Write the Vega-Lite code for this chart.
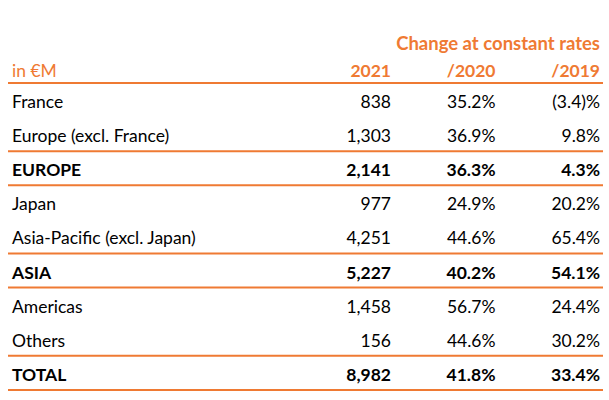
{
  "$schema": "https://vega.github.io/schema/vega-lite/v6.json",
  "width": 609,
  "height": 400,
  "autosize": {"type": "fit", "contains": "padding"},
  "padding": {"left": 7, "right": 5, "top": 0, "bottom": 0},
  "background": "white",
  "config": {"view": {"stroke": null}, "text": {"font": "Lato", "fontSize": 17.5, "baseline": "alphabetic"}},
  "datasets": {
    "cells": [
      {"row": -1, "col": 3, "text": "Change at constant rates", "kind": "title", "bold": true},
      {"row": 0, "col": 0, "text": "in €M", "kind": "header", "bold": false},
      {"row": 0, "col": 1, "text": "2021", "kind": "header", "bold": true},
      {"row": 0, "col": 2, "text": "/2020", "kind": "header", "bold": true},
      {"row": 0, "col": 3, "text": "/2019", "kind": "header", "bold": true},
      {"row": 1, "col": 0, "text": "France", "kind": "body", "bold": false},
      {"row": 1, "col": 1, "text": "838", "kind": "body", "bold": false},
      {"row": 1, "col": 2, "text": "35.2%", "kind": "body", "bold": false},
      {"row": 1, "col": 3, "text": "(3.4)%", "kind": "body", "bold": false},
      {"row": 2, "col": 0, "text": "Europe (excl. France)", "kind": "body", "bold": false},
      {"row": 2, "col": 1, "text": "1,303", "kind": "body", "bold": false},
      {"row": 2, "col": 2, "text": "36.9%", "kind": "body", "bold": false},
      {"row": 2, "col": 3, "text": "9.8%", "kind": "body", "bold": false},
      {"row": 3, "col": 0, "text": "EUROPE", "kind": "body", "bold": true},
      {"row": 3, "col": 1, "text": "2,141", "kind": "body", "bold": true},
      {"row": 3, "col": 2, "text": "36.3%", "kind": "body", "bold": true},
      {"row": 3, "col": 3, "text": "4.3%", "kind": "body", "bold": true},
      {"row": 4, "col": 0, "text": "Japan", "kind": "body", "bold": false},
      {"row": 4, "col": 1, "text": "977", "kind": "body", "bold": false},
      {"row": 4, "col": 2, "text": "24.9%", "kind": "body", "bold": false},
      {"row": 4, "col": 3, "text": "20.2%", "kind": "body", "bold": false},
      {"row": 5, "col": 0, "text": "Asia-Pacific (excl. Japan)", "kind": "body", "bold": false},
      {"row": 5, "col": 1, "text": "4,251", "kind": "body", "bold": false},
      {"row": 5, "col": 2, "text": "44.6%", "kind": "body", "bold": false},
      {"row": 5, "col": 3, "text": "65.4%", "kind": "body", "bold": false},
      {"row": 6, "col": 0, "text": "ASIA", "kind": "body", "bold": true},
      {"row": 6, "col": 1, "text": "5,227", "kind": "body", "bold": true},
      {"row": 6, "col": 2, "text": "40.2%", "kind": "body", "bold": true},
      {"row": 6, "col": 3, "text": "54.1%", "kind": "body", "bold": true},
      {"row": 7, "col": 0, "text": "Americas", "kind": "body", "bold": false},
      {"row": 7, "col": 1, "text": "1,458", "kind": "body", "bold": false},
      {"row": 7, "col": 2, "text": "56.7%", "kind": "body", "bold": false},
      {"row": 7, "col": 3, "text": "24.4%", "kind": "body", "bold": false},
      {"row": 8, "col": 0, "text": "Others", "kind": "body", "bold": false},
      {"row": 8, "col": 1, "text": "156", "kind": "body", "bold": false},
      {"row": 8, "col": 2, "text": "44.6%", "kind": "body", "bold": false},
      {"row": 8, "col": 3, "text": "30.2%", "kind": "body", "bold": false},
      {"row": 9, "col": 0, "text": "TOTAL", "kind": "body", "bold": true},
      {"row": 9, "col": 1, "text": "8,982", "kind": "body", "bold": true},
      {"row": 9, "col": 2, "text": "41.8%", "kind": "body", "bold": true},
      {"row": 9, "col": 3, "text": "33.4%", "kind": "body", "bold": true}
    ],
    "lines": [
      {"row": 0}, {"row": 2}, {"row": 3}, {"row": 5}, {"row": 6}, {"row": 8}, {"row": 9}
    ]
  },
  "encoding": {
    "y": {"field": "row", "type": "quantitative", "axis": null,
          "scale": {"domain": [-2.165, 9.557], "reverse": true, "nice": false, "zero": false}}
  },
  "layer": [
    {
      "data": {"name": "lines"},
      "mark": {"type": "rule", "color": "#EF7A33", "strokeWidth": 2, "yOffset": 9},
      "encoding": {}
    },
    {
      "data": {"name": "cells"},
      "transform": [{"filter": "datum.kind === 'body' && datum.col === 0 && !datum.bold"}],
      "mark": {"type": "text", "align": "left", "color": "#000000"},
      "encoding": {
        "x": {"field": "col", "type": "quantitative", "axis": null, "scale": {"domain": [0, 1, 3], "range": [4, 383, 592], "zero": false, "nice": false}},
        "text": {"field": "text"}
      }
    },
    {
      "data": {"name": "cells"},
      "transform": [{"filter": "datum.kind === 'body' && datum.col === 0 && datum.bold"}],
      "mark": {"type": "text", "align": "left", "color": "#000000", "fontWeight": "bold"},
      "encoding": {
        "x": {"field": "col", "type": "quantitative", "axis": null},
        "text": {"field": "text"}
      }
    },
    {
      "data": {"name": "cells"},
      "transform": [{"filter": "datum.kind === 'body' && datum.col > 0 && !datum.bold"}],
      "mark": {"type": "text", "align": "right", "color": "#000000"},
      "encoding": {
        "x": {"field": "col", "type": "quantitative", "axis": null},
        "text": {"field": "text"}
      }
    },
    {
      "data": {"name": "cells"},
      "transform": [{"filter": "datum.kind === 'body' && datum.col > 0 && datum.bold"}],
      "mark": {"type": "text", "align": "right", "color": "#000000", "fontWeight": "bold"},
      "encoding": {
        "x": {"field": "col", "type": "quantitative", "axis": null},
        "text": {"field": "text"}
      }
    },
    {
      "data": {"name": "cells"},
      "transform": [{"filter": "datum.kind === 'header' && datum.col === 0"}],
      "mark": {"type": "text", "align": "left", "color": "#EF7A33", "dy": 3},
      "encoding": {
        "x": {"field": "col", "type": "quantitative", "axis": null},
        "text": {"field": "text"}
      }
    },
    {
      "data": {"name": "cells"},
      "transform": [{"filter": "datum.kind === 'header' && datum.col > 0"}],
      "mark": {"type": "text", "align": "right", "color": "#EF7A33", "fontWeight": "bold", "dy": 3},
      "encoding": {
        "x": {"field": "col", "type": "quantitative", "axis": null},
        "text": {"field": "text"}
      }
    },
    {
      "data": {"name": "cells"},
      "transform": [{"filter": "datum.kind === 'title'"}],
      "mark": {"type": "text", "align": "right", "color": "#EF7A33", "fontWeight": "bold", "fontSize": 18.5, "dy": 10},
      "encoding": {
        "x": {"field": "col", "type": "quantitative", "axis": null},
        "text": {"field": "text"}
      }
    }
  ]
}
